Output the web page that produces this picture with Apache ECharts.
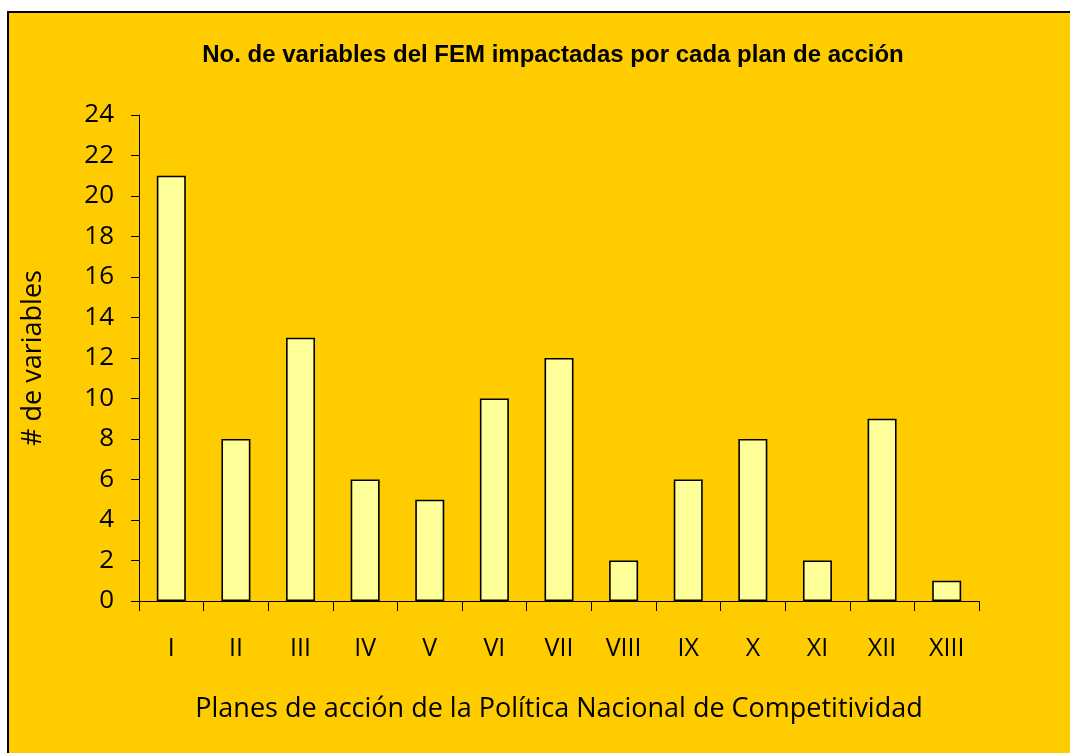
<!DOCTYPE html>
<html>
<head>
<meta charset="utf-8">
<script src="https://cdn.jsdelivr.net/npm/echarts@6/dist/echarts.min.js"></script>
<style>
  html, body { margin: 0; padding: 0; background: #fff; }
  #chart { width: 1070px; height: 753px; }
</style>
</head>
<body>
<div id="chart"></div>
<script>
  // planes de acción I..XIII
  const categories = ['I', 'II', 'III', 'IV', 'V', 'VI', 'VII', 'VIII', 'IX', 'X', 'XI', 'XII', 'XIII']
  const values = [21, 8, 13, 6, 5, 10, 12, 2, 6, 8, 2, 9, 1]
  const yTicks = [0, 24, 2] // min, max, interval

  const font = 'Open Sans'
  let myChart = echarts.init(document.getElementById('chart'))
  myChart.setOption({
    backgroundColor: '#fff',
    animation: false,
    graphic: {
      elements: [
        {
          type: 'rect',
          z: -10,
          shape: { x: 8, y: 12, width: 1080, height: 760 },
          style: { fill: '#FFCC00', stroke: '#000', lineWidth: 2 },
        },
      ],
    },
    title: {
      text: 'No. de variables del FEM impactadas por cada plan de acción',
      left: 548,
      textAlign: 'center',
      top: 38,
      textStyle: {
        color: '#000',
        fontFamily: 'Liberation Sans',
        fontWeight: 'bold',
        fontSize: 24,
      },
    },
    grid: {
      left: 139,
      right: 91,
      top: 115,
      bottom: 152,
    },
    xAxis: {
      type: 'category',
      data: categories,
      name: 'Planes de acción de la Política Nacional de Competitividad',
      nameLocation: 'middle',
      nameGap: 95,
      nameTextStyle: { color: '#000', fontFamily: font, fontSize: 27 },
      axisLine: { lineStyle: { color: '#000', width: 1 } },
      axisTick: { show: true, length: 10, lineStyle: { color: '#000' } },
      axisLabel: { color: '#000', fontFamily: font, fontSize: 25, margin: 35 },
    },
    yAxis: {
      type: 'value',
      min: yTicks[0],
      max: yTicks[1],
      interval: yTicks[2],
      name: '# de variables',
      nameLocation: 'middle',
      nameGap: 92,
      nameRotate: 90,
      nameTextStyle: { color: '#000', fontFamily: font, fontSize: 27 },
      axisLine: { show: true, lineStyle: { color: '#000', width: 1 } },
      axisTick: { show: true, length: 8, lineStyle: { color: '#000' } },
      axisLabel: { color: '#000', fontFamily: font, fontSize: 26, margin: 25 },
      splitLine: { show: false },
    },
    series: [
      {
        type: 'bar',
        data: values,
        barWidth: 29,
        itemStyle: {
          color: '#FFFF99',
          borderColor: '#000',
          borderWidth: 1.6,
        },
      },
    ],
  })
</script>
</body>
</html>
